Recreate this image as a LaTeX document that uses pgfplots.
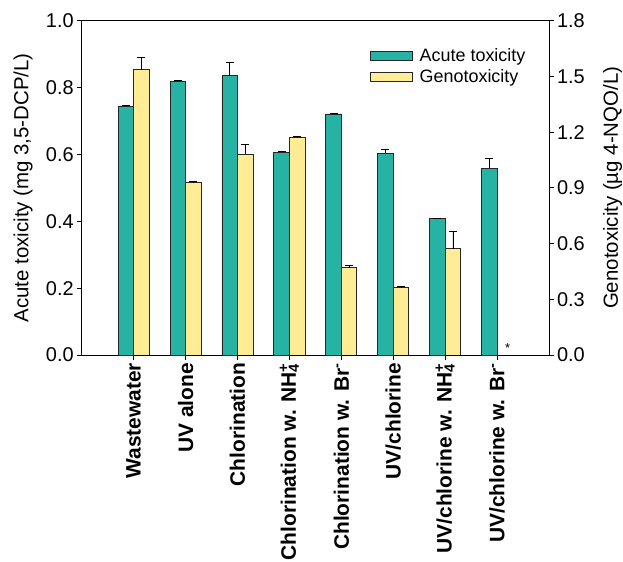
\documentclass[border=0pt]{standalone}
\usepackage{fontspec}
\setmainfont{Liberation Sans}
\usepackage{pgfplots}
\pgfplotsset{compat=1.18}
\usepackage{pgfplotstable}

\definecolor{acutecol}{RGB}{38,179,164}
\definecolor{genocol}{RGB}{255,236,148}

% acute toxicity, mg 3,5-DCP/L (left axis)
\pgfplotstableread{
x y err
0 0.745 0.003
1 0.817 0.005
2 0.835 0.039
3 0.607 0.003
4 0.721 0.002
5 0.604 0.010
6 0.408 0.002
7 0.559 0.028
}\acutetab

% genotoxicity, ug 4-NQO/L (right axis); UV/chlorine w. Br- not detected
\pgfplotstableread{
x y err
0 1.537 0.063
1 0.931 0.002
2 1.082 0.050
3 1.171 0.007
4 0.471 0.011
5 0.364 0.004
6 0.573 0.093
}\genotab

% half a bar width, in category units
\newcommand\halfbar{0.1496}

\pgfplotsset{
  common/.style={
    scale only axis, width=467.3bp, height=334.3bp,
    xmin=-1, xmax=8, ymin=0,
    tick align=outside, major tick length=4.5bp,
    axis line style={line width=0.9pt},
    every tick/.style={black, line width=0.9pt},
    /pgf/number format/assume math mode=true,
    ticklabel style={font=\fontsize{20}{24}\selectfont},
    yticklabel style={/pgf/number format/.cd, fixed, fixed zerofill, precision=1},
  },
  barstyle/.style={ybar, bar width=15.5bp, bar shift=0pt, draw=black!85, line width=0.8pt},
  errstyle/.style={error bars/.cd, y dir=plus, y explicit,
    error bar style={black, line width=0.8pt},
    error mark=-,
    error mark options={rotate=90, black, line width=0.8pt, mark size=4bp}},
}

\begin{document}
\begin{tikzpicture}
\begin{axis}[common, name=ax,
  ymax=1.0, ytick={0,0.2,0.4,0.6,0.8,1.0}, ytick pos=left,
  xtick={0,...,7}, xtick pos=left,
  xticklabels={
    {Wastewater}, {UV alone}, {Chlorination},
    {Chlorination w. NH\rlap{\textsubscript{4}}\textsuperscript{+}},
    {Chlorination w. Br\textsuperscript{-}},
    {UV/chlorine},
    {UV/chlorine w. NH\rlap{\textsubscript{4}}\textsuperscript{+}},
    {UV/chlorine w. Br\textsuperscript{-}}},
  xticklabel style={rotate=90, anchor=east, font=\bfseries\fontsize{21}{24}\selectfont},
  ylabel={Acute toxicity (mg 3,5-DCP/L)},
  ylabel style={font=\fontsize{20.5}{24}\selectfont, at={(axis description cs:-0.1256,0.5)}, anchor=center},
  legend cell align=left,
  legend style={draw=none, fill=none, at={(axis description cs:0.61,0.93)}, anchor=north west,
    font=\fontsize{18}{22}\selectfont, row sep=2.5bp},
  legend image code/.code={\draw[#1, line width=0.8pt] (0bp,-4.5bp) rectangle (42bp,4.5bp); \path (47bp,0bp);},
]
\addplot[barstyle, fill=acutecol, errstyle]
  table[x expr=\thisrow{x}-\halfbar, y=y, y error=err] {\acutetab};
\addlegendentry{Acute toxicity}
\addlegendimage{fill=genocol, draw=black!85}
\addlegendentry{Genotoxicity}
\end{axis}

\begin{axis}[common,
  ymax=1.8, ytick={0,0.3,0.6,0.9,1.2,1.5,1.8},
  axis y line*=right, axis x line=none,
  ylabel={Genotoxicity (µg 4-NQO/L)},
  ylabel style={font=\fontsize{20.5}{24}\selectfont, at={(axis description cs:1.1359,0.5)}, anchor=center},
]
\addplot[barstyle, fill=genocol, errstyle]
  table[x expr=\thisrow{x}+\halfbar, y=y, y error=err] {\genotab};
\node[font=\fontsize{13}{13}\selectfont, inner sep=0pt] at (axis cs:7,0) [xshift=10.5bp, yshift=7bp] {*};
\end{axis}

\pgfresetboundingbox
\path[use as bounding box] ([xshift=-81.7bp,yshift=-207bp]ax.south west)
  rectangle ([xshift=74bp,yshift=20.7bp]ax.north east);
\end{tikzpicture}
\end{document}
